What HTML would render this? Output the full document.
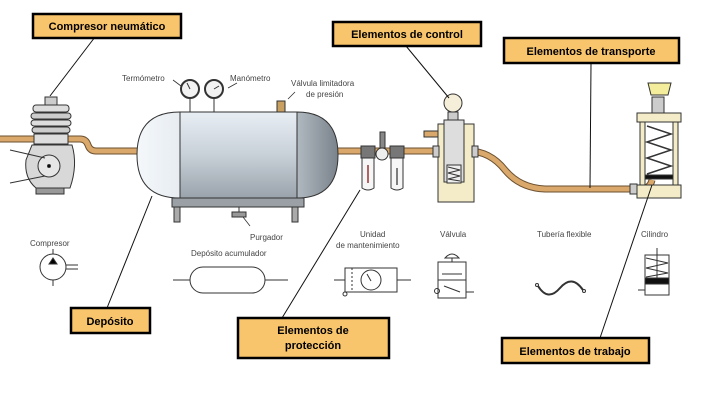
<!DOCTYPE html>
<html><head><meta charset="utf-8"><style>
html,body{margin:0;padding:0;background:#fff;}
svg{display:block;font-family:"Liberation Sans",sans-serif;}
.s{font-size:8px;fill:#444;}
.b{font-size:11px;font-weight:bold;fill:#000;}
</style></head><body>
<svg width="715" height="407" viewBox="0 0 715 407" xmlns="http://www.w3.org/2000/svg">
<defs>
<linearGradient id="tk" x1="0" y1="0" x2="0" y2="1"><stop offset="0" stop-color="#e8eef4"/><stop offset="0.5" stop-color="#c8d0d8"/><stop offset="1" stop-color="#9aa3ab"/></linearGradient>
<linearGradient id="tkl" x1="0" y1="0" x2="1" y2="0"><stop offset="0" stop-color="#f4f8fb"/><stop offset="1" stop-color="#c4ccd4"/></linearGradient>
<linearGradient id="tkr" x1="0" y1="0" x2="1" y2="0"><stop offset="0" stop-color="#b0b8c0"/><stop offset="1" stop-color="#7a838b"/></linearGradient>
</defs>
<!-- pipes -->
<g fill="none" stroke="#6b5030" stroke-width="7" stroke-linecap="butt">
<path d="M0 139 H80 Q86 139 88 145 Q90 151 96 151 H140"/>
<path d="M330 151 H440"/>
<path d="M468 151 Q490 151 505 170 Q520 188 545 189 H640 Q650 189 652 180"/>
</g>
<g fill="none" stroke="#d9a86a" stroke-width="5">
<path d="M0 139 H80 Q86 139 88 145 Q90 151 96 151 H140"/>
<path d="M330 151 H440"/>
<path d="M468 151 Q490 151 505 170 Q520 188 545 189 H640 Q650 189 652 180"/>
</g>
<!-- compressor -->
<g stroke="#333" stroke-width="1">
<rect x="45" y="97" width="12" height="8" fill="#ccc"/>
<rect x="33" y="105" width="36" height="7" rx="3" fill="#ddd"/>
<rect x="31" y="113" width="40" height="6" rx="3" fill="#ccc"/>
<rect x="31" y="120" width="40" height="6" rx="3" fill="#ddd"/>
<rect x="32" y="127" width="38" height="6" rx="3" fill="#ccc"/>
<rect x="34" y="134" width="34" height="10" fill="#ddd"/>
<path d="M32 145 H72 Q78 165 70 188 H36 Q24 178 26 160 Z" fill="#d8d8d8"/>
<circle cx="49" cy="166" r="11" fill="#e6e6e6"/>
<circle cx="49" cy="166" r="1.5" fill="#000"/>
<rect x="36" y="188" width="28" height="6" fill="#999"/>
<line x1="10" y1="150" x2="45" y2="158"/>
<line x1="10" y1="183" x2="45" y2="176"/>
</g>
<!-- tank -->
<g stroke="#333" stroke-width="1">
<rect x="174" y="200" width="6" height="22" fill="#aaa"/>
<rect x="292" y="200" width="6" height="22" fill="#aaa"/>
<rect x="172" y="198" width="132" height="9" fill="#9aa0a6"/>
<path d="M180 112 H297 V198 H180 Q137 198 137 155 Q137 112 180 112 Z" fill="url(#tkl)"/>
<rect x="180" y="112" width="117" height="86" fill="url(#tk)"/>
<path d="M297 112 Q338 112 338 155 Q338 198 297 198 Z" fill="url(#tkr)"/>
<line x1="190" y1="98" x2="190" y2="112"/><line x1="214" y1="98" x2="214" y2="112"/>
<circle cx="190" cy="89" r="9" fill="#f2f2f2" stroke-width="2"/>
<circle cx="214" cy="89" r="9" fill="#f2f2f2" stroke-width="2"/>
<line x1="190" y1="89" x2="187" y2="83"/><line x1="214" y1="89" x2="219" y2="86"/>
<rect x="277" y="101" width="8" height="11" fill="#c9a060"/>
<rect x="232" y="212" width="14" height="5" fill="#999"/>
<line x1="239" y1="207" x2="239" y2="212"/>
<line x1="173" y1="80" x2="181" y2="86" stroke-width="0.8"/>
<line x1="237" y1="83" x2="228" y2="88" stroke-width="0.8"/>
<line x1="295" y1="92" x2="288" y2="99" stroke-width="0.8"/>
<line x1="243" y1="217" x2="250" y2="226" stroke-width="0.8"/>
</g>
<!-- FRL unit -->
<g stroke="#333" stroke-width="1">
<rect x="380" y="132" width="5" height="16" fill="#888"/>
<rect x="361" y="146" width="14" height="12" fill="#777"/>
<rect x="390" y="146" width="14" height="12" fill="#777"/>
<circle cx="382" cy="154" r="6" fill="#eee"/>
<path d="M362 158 H374 V188 Q368 192 362 188 Z" fill="#f6f6f6"/>
<path d="M391 158 H403 V188 Q397 192 391 188 Z" fill="#f6f6f6"/>
<line x1="368" y1="165" x2="368" y2="183" stroke="#933" stroke-width="1.5"/>
<line x1="397" y1="168" x2="397" y2="185" stroke="#555" stroke-width="1.5"/>
</g>
<!-- control valve -->
<g stroke="#333" stroke-width="1">
<rect x="424" y="131" width="22" height="6" fill="#d9a86a"/>
<rect x="438" y="124" width="36" height="78" fill="#f4ecc8"/>
<circle cx="453" cy="103" r="9" fill="#f5eed8"/>
<rect x="448" y="112" width="10" height="10" fill="#ccc"/>
<rect x="444" y="120" width="20" height="62" fill="#ddd"/>
<rect x="447" y="165" width="14" height="18" fill="#eee"/>
<path d="M448 167 L460 170 L448 173 L460 176 L448 179 L460 181" fill="none"/>
<rect x="433" y="146" width="6" height="11" fill="#ccc"/>
<rect x="472" y="146" width="6" height="11" fill="#ccc"/>
</g>
<!-- cylinder -->
<g stroke="#333" stroke-width="1">
<rect x="652" y="97" width="12" height="18" fill="#ccc"/>
<path d="M648 83 H671 L668 95 H651 Z" fill="#f4ee9c"/>
<rect x="637" y="113" width="44" height="9" fill="#f4ecc8"/>
<rect x="637" y="185" width="44" height="13" fill="#f4ecc8"/>
<rect x="640" y="122" width="5" height="63" fill="#f4ecc8"/>
<rect x="673" y="122" width="5" height="63" fill="#f4ecc8"/>
<path d="M647 126 L671 134 L647 142 L671 150 L647 158 L671 166 L647 174" fill="none" stroke-width="1.5"/>
<rect x="645" y="175" width="28" height="4" fill="#111"/>
<rect x="630" y="184" width="7" height="10" fill="#ccc"/>
</g>
<!-- small labels -->
<g class="s">
<text x="122" y="81">Termómetro</text>
<text x="230" y="81">Manómetro</text>
<text x="291" y="86">Válvula limitadora</text>
<text x="306" y="97">de presión</text>
<text x="250" y="240">Purgador</text>
<text x="30" y="246">Compresor</text>
<text x="191" y="256">Depósito acumulador</text>
<text x="360" y="237">Unidad</text>
<text x="336" y="248">de mantenimiento</text>
<text x="440" y="237">Válvula</text>
<text x="537" y="237">Tubería flexible</text>
<text x="641" y="237">Cilindro</text>
</g>
<!-- symbols -->
<g stroke="#333" stroke-width="1" fill="none">
<circle cx="53" cy="267" r="13" fill="#fff"/>
<line x1="53" y1="249" x2="53" y2="254"/><line x1="53" y1="280" x2="53" y2="286"/>
<path d="M49 264 L53 258 L57 264 Z" fill="#000"/>
<line x1="66" y1="265" x2="78" y2="265"/><line x1="66" y1="269" x2="78" y2="269"/>
<rect x="190" y="267" width="75" height="26" rx="13" fill="#fff"/>
<line x1="173" y1="280" x2="190" y2="280"/><line x1="265" y1="280" x2="288" y2="280"/>
<rect x="345" y="268" width="52" height="24" fill="#fff"/>
<line x1="352" y1="268" x2="352" y2="292" stroke-dasharray="2 2"/>
<circle cx="371" cy="280" r="10"/>
<line x1="367" y1="274" x2="371" y2="281"/>
<line x1="334" y1="280" x2="345" y2="280"/><line x1="397" y1="280" x2="411" y2="280"/>
<circle cx="345" cy="294" r="2"/>
<path d="M445 258 Q452 250 459 258 Z"/>
<line x1="452" y1="258" x2="452" y2="262"/>
<rect x="438" y="262" width="28" height="36"/>
<line x1="438" y1="280" x2="466" y2="280"/>
<line x1="442" y1="274" x2="462" y2="274"/>
<line x1="444" y1="286" x2="460" y2="292"/>
<circle cx="437" cy="291" r="2.5"/>
<line x1="466" y1="292" x2="474" y2="292"/>
<path d="M538 286 Q548 302 560 288 Q572 274 583 290" stroke-width="2"/>
<circle cx="537" cy="285" r="1.5"/><circle cx="584" cy="291" r="1.5"/>
<rect x="645" y="255" width="24" height="40"/>
<line x1="657" y1="248" x2="657" y2="280"/>
<rect x="645" y="278" width="24" height="6" fill="#111"/>
<path d="M646 258 L668 263 L646 268 L668 273 L646 277" />
<line x1="638" y1="290" x2="645" y2="290"/>
</g>
<!-- callout lines -->
<g stroke="#111" stroke-width="1">
<line x1="95" y1="37" x2="50" y2="96"/>
<line x1="406" y1="46" x2="449" y2="98"/>
<line x1="591" y1="64" x2="590" y2="188"/>
<line x1="107" y1="308" x2="152" y2="196"/>
<line x1="282" y1="318" x2="360" y2="190"/>
<line x1="600" y1="338" x2="652" y2="185"/>
</g>
<!-- callout boxes -->
<g stroke="#000" stroke-width="2.5" fill="#f8c46c">
<rect x="33" y="14" width="148" height="24"/>
<rect x="333" y="22" width="148" height="24"/>
<rect x="504" y="38" width="175" height="25"/>
<rect x="71" y="308" width="79" height="25"/>
<rect x="238" y="318" width="151" height="40"/>
<rect x="502" y="338" width="147" height="25"/>
</g>
<g class="b" text-anchor="middle">
<text x="107" y="30">Compresor neumático</text>
<text x="407" y="38">Elementos de control</text>
<text x="591" y="55">Elementos de transporte</text>
<text x="110" y="325">Depósito</text>
<text x="313" y="334">Elementos de</text>
<text x="313" y="349">protección</text>
<text x="575" y="355">Elementos de trabajo</text>
</g>
</svg>
</body></html>
